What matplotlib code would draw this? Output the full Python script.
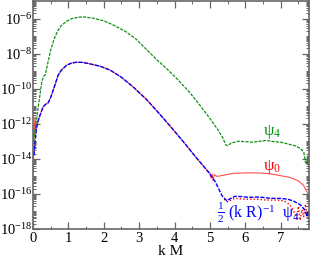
import numpy as np
import matplotlib
matplotlib.use("Agg")
import matplotlib.pyplot as plt
from matplotlib.ticker import LogLocator, MultipleLocator, FixedLocator, NullFormatter

# ---- data (x = k M, values as log10) ----
psi4_x = [0.02, 0.06, 0.10, 0.15, 0.20, 0.25, 0.30, 0.35, 0.40, 0.50, 0.60, 0.70, 0.80, 0.95,
          1.10, 1.30, 1.45, 1.70, 2.00, 2.30, 2.60, 2.90, 3.20, 3.50, 3.80, 4.10, 4.40, 4.70,
          5.00, 5.20, 5.35, 5.45, 5.50, 5.60, 5.80, 6.00, 6.20, 6.40, 6.60, 6.80, 7.00, 7.20,
          7.40, 7.55, 7.65, 7.70, 7.74, 7.76, 7.80]
psi4_log = [-13.0, -12.3, -11.8, -11.0, -10.3, -9.6, -9.3, -9.2, -8.7, -7.8, -7.15, -6.7, -6.4, -6.15,
            -6.0, -5.92, -5.91, -5.98, -6.13, -6.4, -6.72, -7.15, -7.75, -8.35, -8.9, -9.5, -10.15, -10.9,
            -11.7, -12.27, -12.75, -13.2, -13.25, -13.1, -13.0, -13.02, -13.05, -13.0, -12.95, -13.02, -13.05, -13.15,
            -13.25, -13.4, -13.6, -14.2, -14.3, -13.8, -14.0]

blue_x = [0.03, 0.06, 0.10, 0.15, 0.20, 0.28, 0.35, 0.43, 0.50, 0.57, 0.65, 0.71, 0.80, 0.95,
          1.10, 1.25, 1.40, 1.60, 1.90, 2.18, 2.50, 2.83, 3.20, 3.56, 3.93, 4.30, 4.60, 4.94,
          5.15, 5.34, 5.48, 5.55, 5.70, 5.90, 6.10, 6.30, 6.50, 6.70, 7.00, 7.20, 7.35, 7.50,
          7.60, 7.70, 7.74, 7.78, 7.80]
blue_log = [-13.8, -13.0, -12.2, -11.8, -11.5, -11.06, -10.9, -10.8, -10.5, -10.09, -9.6, -9.23, -8.95, -8.66,
            -8.53, -8.49, -8.5, -8.58, -8.72, -8.94, -9.35, -9.9, -10.6, -11.4, -12.26, -13.15, -13.9, -14.71,
            -15.3, -16.1, -16.4, -16.3, -16.14, -16.15, -16.2, -16.18, -16.2, -16.25, -16.26, -16.3, -16.4, -16.55,
            -16.7, -17.0, -17.3, -17.0, -17.1]

psi0_x = [0.01, 0.03, 0.06, 0.10, 0.15, 0.20, 0.28, 0.35, 0.43, 0.50, 0.57, 0.65, 0.71, 0.80, 0.95,
          1.10, 1.25, 1.40, 1.60, 1.90, 2.18, 2.50, 2.83, 3.20, 3.56, 3.93, 4.30, 4.60, 4.94,
          5.00, 5.03, 5.06, 5.09, 5.12, 5.20, 5.37, 5.66, 6.00, 6.30, 6.60, 6.90, 7.26, 7.50,
          7.64, 7.78]
psi0_log = [-14.7, -12.3, -11.6, -12.3, -11.8, -11.5, -11.06, -10.9, -10.8, -10.5, -10.09, -9.6, -9.23, -8.95, -8.66,
            -8.53, -8.49, -8.5, -8.58, -8.72, -8.94, -9.35, -9.9, -10.6, -11.4, -12.26, -13.15, -13.9, -14.71,
            -14.8, -15.1, -14.85, -15.25, -14.9, -15.0, -14.94, -14.83, -14.8, -14.8, -14.83, -14.92, -15.06, -15.25,
            -15.5, -16.0]

reddot_x = [5.40, 5.50, 5.70, 6.00, 6.30, 6.60, 6.90, 7.10, 7.25, 7.35, 7.45, 7.50, 7.55, 7.60, 7.65, 7.70, 7.75, 7.80]
reddot_log = [-16.3, -16.45, -16.25, -16.3, -16.3, -16.35, -16.35, -16.4, -16.6, -16.9, -17.4, -16.7, -17.5, -16.9, -17.3, -16.6, -17.2, -17.0]

xticks = [0, 1, 2, 3, 4, 5, 6, 7]
yticks_exp = [-18, -16, -14, -12, -10, -8, -6]

plt.rcParams['font.family'] = ['Liberation Serif', 'DejaVu Serif']
plt.rcParams['mathtext.fontset'] = 'custom'
plt.rcParams['mathtext.rm'] = 'Liberation Serif'
plt.rcParams['mathtext.it'] = 'Liberation Serif:italic'

fig = plt.figure(figsize=(3.12, 2.58), dpi=100)
ax = fig.add_axes([33/312, 1 - 229/258, 276/312, 228/258])

ax.plot(reddot_x, 10**np.array(reddot_log), color='red', lw=1.0, ls=(0, (1, 1.5)))
ax.plot(psi0_x, 10**np.array(psi0_log), color='#ff5050', lw=0.8)
ax.plot(blue_x, 10**np.array(blue_log), color='blue', lw=1.0, ls=(0, (3, 1)))
ax.plot(psi4_x, 10**np.array(psi4_log), color='#109010', lw=0.9, ls=(0, (2.5, 1)))

ax.set_yscale('log')
ax.set_xlim(0, 7.8)
ax.set_ylim(1e-18, 1e-5)

ax.xaxis.set_major_locator(FixedLocator(xticks))
ax.xaxis.set_minor_locator(MultipleLocator(0.5))
ax.yaxis.set_major_locator(FixedLocator([10.0**e for e in yticks_exp]))
ax.set_yticklabels([r'$10^{%d}$' % e for e in yticks_exp])
ax.yaxis.set_minor_locator(LogLocator(base=10, subs=np.arange(1, 10), numticks=50))
ax.yaxis.set_minor_formatter(NullFormatter())

ax.tick_params(which='both', direction='in', top=True, right=True, colors='#666666',
               labelcolor='black', labelsize=10.5)
ax.tick_params(which='major', length=5, width=0.9)
ax.tick_params(which='minor', length=2.5, width=0.7)
ax.tick_params(axis='x', pad=2.5)
ax.tick_params(axis='y', pad=0.5)
for s in ax.spines.values():
    s.set_color('#666666')
    s.set_linewidth(1.2)

ax.set_xlabel('k M', fontsize=11, labelpad=0)

ax.text(6.75, 10**-12.45, r'ψ$_4$', color='#109010', fontsize=12, ha='center', va='center')
ax.text(6.75, 10**-14.45, r'ψ$_0$', color='red', fontsize=12, ha='center', va='center')
ax.text(5.2, 10**-17.05, r'$\frac{1}{2}$ (k R)$^{-1}$  ψ$_4$', color='blue', fontsize=11.5,
        ha='left', va='center')

fig.savefig('out.png', dpi=100)
